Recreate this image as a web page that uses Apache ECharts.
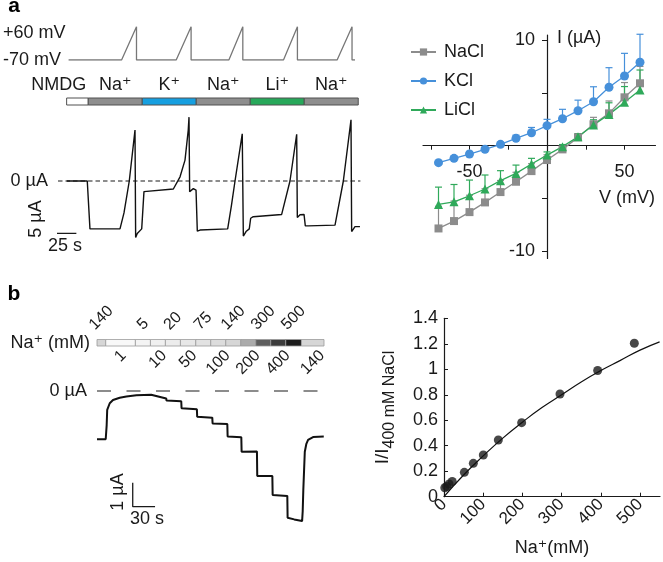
<!DOCTYPE html>
<html>
<head>
<meta charset="utf-8">
<script src="https://cdn.jsdelivr.net/npm/echarts@6/dist/echarts.min.js"></script>
<style>
  html, body { margin: 0; padding: 0; background: #fff; }
  #chart { width: 663px; height: 562px; }
</style>
</head>
<body>
<div id="chart"></div>
<script>
// ---- panel a, top: ramp protocol (time s, potential mV)
const protoT = [8, 57.4, 71.3, 71.3, 108.3, 122.2, 122.2, 157.4, 170.4, 170.4, 208.3, 221.3, 221.3, 258.3, 272.2, 272.2, 275];
const protoV = [-70, -70, 60, -70, -70, 60, -70, -70, 60, -70, -70, 60, -70, -70, 60, -70, -70];

// ---- panel a: perfusion bar (s)
const ionNames = ['NMDG', 'Na⁺', 'K⁺', 'Na⁺', 'Li⁺', 'Na⁺'];
const ionStart = [8, 28, 78, 128, 178, 228];
const ionEnd = [28, 78, 128, 178, 228, 278];

// ---- panel a: current trace (s, µA)
const traceAT = [8.1, 27.1, 28.1, 29.6, 31.2, 57.4, 61.1, 66.0, 71.3, 71.9, 73.4, 77.5, 79.0, 79.6, 81.2, 106.8, 113.0, 117.6, 120.6, 121.3,
  121.9, 123.1, 125.3, 127.8, 129.0, 131.5, 157.1, 160.5, 163.9, 170.6, 171.6, 174.1, 177.1, 178.4, 180.8, 207.1, 214.8, 221.0,
  221.6, 224.1, 227.8, 229.0, 231.8, 256.5, 264.2, 271.3, 271.9, 275.0, 279.6];
const traceAI = [0, 0, -0.4, -12.6, -12.9, -12.6, -8.4, 0, 13.4, -14.9, -13.8, -12.6, -12.4, -2.8, -2.4, -2.1, 1.1, 5.5, 13.4, 16.8,
  -2.8, -2.4, -2.0, -2.4, -13.2, -12.9, -12.6, -6.6, 0, 12.4, -14.5, -13.3, -12.6, -9.8, -9.4, -8.8, 0, 12.3,
  -9.6, -8.9, -8.8, -11.8, -11.8, -11.6, 0, 16.1, -13.3, -12.0, -12.0];
const scaleAT = [-8, -8, 17];
const scaleAI = [-8.76, -13.76, -13.76];

// ---- panel a, right: I-V curves
const ivV = [-70, -60, -50, -40, -30, -20, -10, 0, 10, 20, 30, 40, 50, 60];
const naclI = [-7.85, -7.15, -6.30, -5.38, -4.40, -3.42, -2.41, -1.36, -0.35, 0.79, 2.03, 3.07, 4.59, 5.92];
const naclErr = [2.1, 1.9, 1.6, 1.3, 1.1, 0.9, 0.7, 0.5, 0.3, 0.3, 0.66, 1.17, 1.4, 1.6];
const kclI = [-1.61, -1.20, -0.79, -0.34, 0.13, 0.70, 1.23, 1.90, 2.56, 3.32, 4.17, 5.54, 6.61, 7.91];
const kclErr = [0.2, 0.2, 0.2, 0.2, 0.2, 0.3, 0.5, 0.6, 0.89, 1.0, 1.42, 1.86, 2.15, 2.66];
const liclI = [-5.57, -5.32, -4.75, -4.11, -3.32, -2.63, -1.74, -0.89, -0.09, 0.85, 1.96, 2.97, 4.11, 5.28];
const liclErr = [1.64, 1.64, 1.49, 1.33, 0.95, 0.79, 0.54, 0.3, 0.2, 0.3, 0.5, 1.1, 1.5, 1.9];

// ---- panel b: Na+ concentration bar (s)
const naLabels = ['140', '1', '5', '10', '20', '50', '75', '100', '140', '200', '300', '400', '500', '140'];
const naStart = [0, 11.7, 51.6, 71.8, 91.9, 112.1, 132.7, 152.8, 173.0, 193.1, 213.3, 233.4, 253.6, 274.7];
const naEnd = [11.7, 51.6, 71.8, 91.9, 112.1, 132.7, 152.8, 173.0, 193.1, 213.3, 233.4, 253.6, 274.7, 305];
const naShades = ['#d6d6d6', '#f8f8f8', '#f4f4f4', '#f0f0f0', '#ececec', '#e7e7e7', '#e2e2e2', '#dcdcdc', '#d6d6d6',
  '#ababab', '#5e5e5e', '#3c3c3c', '#1c1c1c', '#d6d6d6'];

// ---- panel b: current trace (s, µA)
const traceBT = [0, 11.7, 13.0, 13.7, 17.1, 21.5, 30.5, 39.5, 53.0, 72.8, 73.0, 73.2, 93.0, 93.2, 93.4, 113.2, 113.4, 113.6,
  134.2, 134.4, 134.6, 154.9, 155.1, 155.3, 175.1, 175.3, 175.5, 193.9, 194.1, 194.3, 214.9, 215.1, 215.3,
  235.6, 235.8, 236.0, 255.7, 255.9, 256.1, 265, 275.6, 276.4, 277.2, 279.2, 281.3, 283.6, 290.3, 304.7];
const traceBI = [-2.01, -2.01, -1.42, -0.79, -0.51, -0.375, -0.28, -0.23, -0.18, -0.16, -0.12, -0.24, -0.31, -0.27, -0.40, -0.43, -0.37, -0.72,
  -0.76, -0.70, -1.07, -1.11, -1.05, -1.35, -1.38, -1.32, -1.90, -1.93, -1.87, -2.53, -2.52, -2.46, -3.54,
  -3.54, -3.48, -4.33, -4.37, -4.31, -5.28, -5.35, -5.42, -5.0, -4.13, -2.53, -2.2, -2.04, -1.92, -1.90];
const scaleBT = [48, 48, 78];
const scaleBI = [-3.82, -4.82, -4.82];

// ---- panel b, right: normalised current vs [Na+]
const doseNa = [2, 7, 13, 21, 51.9, 74.8, 100.3, 138.6, 198.1, 295.9, 392, 485.5];
const doseI = [0.07, 0.08, 0.10, 0.12, 0.191, 0.262, 0.327, 0.445, 0.581, 0.806, 0.99, 1.204];
const fitNa = [0, 50, 100, 150, 200, 250, 300, 350, 400, 450, 500, 550];
const fitI = [0, 0.17, 0.32, 0.46, 0.585, 0.70, 0.80, 0.90, 0.99, 1.07, 1.15, 1.215];

const FONT = "'Liberation Sans', Arial, 'DejaVu Sans', sans-serif";
const INK = '#1a1a1a';
const GRAY = '#8c8c8c';
const BLUE = '#4690da';
const GREEN = '#2fa95a';
const ionColors = ['#ffffff', '#8e8e8e', '#169fe0', '#8e8e8e', '#27a85a', '#8e8e8e'];

const zip = (xs, ys) => xs.map((x, i) => [x, ys[i]]);

function hidden(gridIndex, min, max) {
  return { type: 'value', gridIndex, min, max, show: false };
}

function errorBar(color) {
  return function (params, api) {
    const x = api.value(0), y = api.value(1), e = api.value(2);
    const a = api.coord([x, y]);
    const b = api.coord([x, y + e]);
    const s = { stroke: color, lineWidth: 1.2 };
    return {
      type: 'group',
      children: [
        { type: 'line', shape: { x1: a[0], y1: a[1], x2: b[0], y2: b[1] }, style: s },
        { type: 'line', shape: { x1: b[0] - 3.5, y1: b[1], x2: b[0] + 3.5, y2: b[1] }, style: s }
      ]
    };
  };
}

function ionBar(params, api) {
  const i = params.dataIndex;
  const p0 = api.coord([api.value(0), 1]);
  const p1 = api.coord([api.value(1), 0]);
  const first = i === 0;
  return {
    type: 'group',
    children: [
      { type: 'rect', shape: { x: p0[0], y: p0[1], width: p1[0] - p0[0], height: p1[1] - p0[1] },
        style: { fill: ionColors[i], stroke: '#505050', lineWidth: 1 } },
      { type: 'text', style: {
          text: ionNames[i], x: first ? p1[0] - 2 : (p0[0] + p1[0]) / 2, y: p0[1] - 13,
          align: first ? 'right' : 'center', verticalAlign: 'middle',
          fontSize: 18, fontFamily: FONT, fill: INK } }
    ]
  };
}

function naBar(params, api) {
  const i = params.dataIndex;
  const p0 = api.coord([api.value(0), 1]);
  const p1 = api.coord([api.value(1), 0]);
  const cx = (p0[0] + p1[0]) / 2;
  const txt = naLabels[i];
  const half = (txt.length * 0.556 * 16 + 11.5) * 0.354;
  const above = i % 2 === 0;
  return {
    type: 'group',
    children: [
      { type: 'rect', shape: { x: p0[0], y: p0[1], width: p1[0] - p0[0], height: p1[1] - p0[1] },
        style: { fill: naShades[i], stroke: '#9a9a9a', lineWidth: 0.8 } },
      { type: 'text', x: cx, y: above ? 331.5 - half : 349 + half, rotation: Math.PI / 4,
        style: { text: txt, x: 0, y: 0, align: 'center', verticalAlign: 'middle',
          fontSize: 16, fontFamily: FONT, fill: INK } }
    ]
  };
}

const chart = echarts.init(document.getElementById('chart'));

chart.setOption({
  animation: false,
  backgroundColor: '#fff',
  textStyle: { fontFamily: FONT, color: INK },
  grid: [
    { left: 58, top: 26.7, width: 302.4, height: 33.3 },
    { left: 58, top: 98, width: 302.4, height: 7 },
    { left: 58, top: 105, width: 302.4, height: 152 },
    { left: 423, top: 35, width: 232.5, height: 223.5 },
    { left: 97, top: 339.5, width: 227, height: 6.5 },
    { left: 97, top: 379, width: 227, height: 156 },
    { left: 444, top: 318.3, width: 216, height: 178.4 }
  ],
  legend: {
    data: ['NaCl', 'KCl', 'LiCl'], orient: 'vertical', left: 405, top: 38,
    itemWidth: 25, itemHeight: 9, itemGap: 11,
    textStyle: { fontSize: 18, color: INK, fontFamily: FONT, padding: [0, 0, 0, 3] }
  },
  xAxis: [
    hidden(0, 0, 280),
    hidden(1, 0, 280),
    hidden(2, 0, 280),
    {
      // crosses the y axis at 0 µA
      type: 'value', gridIndex: 3, min: -80, max: 70, position: 'bottom', offset: -112.8,
      axisLine: { onZero: false, lineStyle: { color: INK, width: 1.2 } },
      axisTick: { customValues: [-75, -50, -25, 25, 50], length: 4, lineStyle: { color: INK } },
      axisLabel: { customValues: [-50, 50], margin: 17, fontSize: 18, color: INK },
      splitLine: { show: false }
    },
    hidden(4, 0, 305),
    hidden(5, 0, 305),
    {
      type: 'value', gridIndex: 6, min: 0, max: 551,
      axisLine: { lineStyle: { color: INK, width: 1.2 } },
      axisTick: { inside: true, length: 4, customValues: [0, 100, 200, 300, 400, 500], lineStyle: { color: INK } },
      axisLabel: { customValues: [0, 100, 200, 300, 400, 500], rotate: 45, margin: 5, fontSize: 17, color: INK },
      splitLine: { show: false },
      name: 'Na⁺(mM)', nameLocation: 'middle', nameGap: 42,
      nameTextStyle: { fontSize: 18, color: INK }
    }
  ],
  yAxis: [
    {
      type: 'value', gridIndex: 0, min: -70, max: 60,
      axisLine: { show: false }, axisTick: { show: false }, splitLine: { show: false },
      axisLabel: {
        customValues: [-70, 60], margin: 57, align: 'left', fontSize: 18, color: INK,
        formatter: v => (v === 60 ? '{lo|+60 mV}' : '-70 mV'),
        rich: { lo: { fontSize: 18, padding: [12, 0, 0, 0] } }
      }
    },
    hidden(1, 0, 1),
    {
      type: 'value', gridIndex: 2, min: -20, max: 20,
      axisLine: { show: false }, axisTick: { show: false }, splitLine: { show: false },
      axisLabel: { customValues: [0], formatter: () => '0 µA', margin: 10, fontSize: 18, color: INK }
    },
    {
      // crosses the x axis at 0 mV
      type: 'value', gridIndex: 3, min: -10.7, max: 10.5, position: 'left', offset: -124,
      axisLine: { onZero: false, lineStyle: { color: INK, width: 1.2 } },
      axisTick: { customValues: [-10, -5, 5, 10], length: 5, lineStyle: { color: INK } },
      axisLabel: { customValues: [-10, 10], margin: 12, fontSize: 18, color: INK },
      splitLine: { show: false },
      name: 'I (µA)', nameLocation: 'end', nameGap: 6,
      nameTextStyle: { align: 'left', verticalAlign: 'top', padding: [0, 0, 0, 10], fontSize: 18, color: INK }
    },
    {
      type: 'value', gridIndex: 4, min: 0, max: 1,
      axisLine: { show: false }, axisTick: { show: false }, splitLine: { show: false },
      axisLabel: { customValues: [0.5], formatter: () => 'Na⁺ (mM)', margin: 7, fontSize: 18, color: INK }
    },
    {
      type: 'value', gridIndex: 5, min: -6, max: 0.5,
      axisLine: { show: false }, axisTick: { show: false }, splitLine: { show: false },
      axisLabel: { customValues: [0], formatter: () => '0 µA', margin: 10, fontSize: 18, color: INK }
    },
    {
      type: 'value', gridIndex: 6, min: 0, max: 1.4, interval: 0.2,
      axisLine: { lineStyle: { color: INK, width: 1.2 } },
      axisTick: { inside: true, length: 4, lineStyle: { color: INK } },
      axisLabel: { margin: 6, fontSize: 18, color: INK },
      splitLine: { show: false },
      name: '{a|I/I}{s|400 mM NaCl}', nameLocation: 'middle', nameGap: 46,
      nameTextStyle: {
        color: INK,
        rich: {
          a: { fontSize: 19, lineHeight: 30, verticalAlign: 'middle', fontFamily: FONT },
          s: { fontSize: 16, lineHeight: 16, verticalAlign: 'bottom', fontFamily: FONT }
        }
      }
    }
  ],
  series: [
    { type: 'line', xAxisIndex: 0, yAxisIndex: 0, data: zip(protoT, protoV), symbol: 'none',
      lineStyle: { color: '#777', width: 1.3 } },
    { type: 'custom', xAxisIndex: 1, yAxisIndex: 1, data: zip(ionStart, ionEnd),
      encode: { x: [0, 1] }, renderItem: ionBar },
    { type: 'line', xAxisIndex: 2, yAxisIndex: 2, data: [[0, 0], [280, 0]], symbol: 'none',
      lineStyle: { color: INK, width: 1.2, type: [4.5, 3] } },
    { type: 'line', xAxisIndex: 2, yAxisIndex: 2, data: zip(traceAT, traceAI), symbol: 'none',
      lineStyle: { color: '#111', width: 1.4 } },
    { type: 'line', xAxisIndex: 2, yAxisIndex: 2, data: zip(scaleAT, scaleAI), symbol: 'none', clip: false,
      lineStyle: { color: INK, width: 1.3 } },

    { type: 'custom', xAxisIndex: 3, yAxisIndex: 3, data: ivV.map((v, i) => [v, naclI[i], naclErr[i]]),
      encode: { x: 0, y: 1 }, renderItem: errorBar(GRAY), z: 2 },
    { type: 'custom', xAxisIndex: 3, yAxisIndex: 3, data: ivV.map((v, i) => [v, kclI[i], kclErr[i]]),
      encode: { x: 0, y: 1 }, renderItem: errorBar(BLUE), z: 2 },
    { type: 'custom', xAxisIndex: 3, yAxisIndex: 3, data: ivV.map((v, i) => [v, liclI[i], liclErr[i]]),
      encode: { x: 0, y: 1 }, renderItem: errorBar(GREEN), z: 2 },
    { name: 'NaCl', type: 'line', xAxisIndex: 3, yAxisIndex: 3, data: zip(ivV, naclI),
      symbol: 'rect', symbolSize: 8, itemStyle: { color: GRAY }, lineStyle: { color: GRAY, width: 1.3 }, z: 3 },
    { name: 'KCl', type: 'line', xAxisIndex: 3, yAxisIndex: 3, data: zip(ivV, kclI),
      symbol: 'circle', symbolSize: 9, itemStyle: { color: BLUE }, lineStyle: { color: BLUE, width: 1.3 }, z: 3 },
    { name: 'LiCl', type: 'line', xAxisIndex: 3, yAxisIndex: 3, data: zip(ivV, liclI),
      symbol: 'triangle', symbolSize: 9, itemStyle: { color: GREEN }, lineStyle: { color: GREEN, width: 1.3 }, z: 3 },

    { type: 'custom', xAxisIndex: 4, yAxisIndex: 4, data: zip(naStart, naEnd),
      encode: { x: [0, 1] }, renderItem: naBar },
    { type: 'line', xAxisIndex: 5, yAxisIndex: 5, data: [[0, 0], [305, 0]], symbol: 'none',
      lineStyle: { color: INK, width: 1.2, type: [14, 15.5] } },
    { type: 'line', xAxisIndex: 5, yAxisIndex: 5, data: zip(traceBT, traceBI), symbol: 'none',
      lineStyle: { color: '#111', width: 2 } },
    { type: 'line', xAxisIndex: 5, yAxisIndex: 5, data: zip(scaleBT, scaleBI), symbol: 'none', clip: false,
      lineStyle: { color: INK, width: 1.3 } },

    { type: 'line', xAxisIndex: 6, yAxisIndex: 6, data: zip(fitNa, fitI), symbol: 'none', smooth: true,
      lineStyle: { color: '#111', width: 1.2 } },
    { type: 'scatter', xAxisIndex: 6, yAxisIndex: 6, data: zip(doseNa, doseI), symbolSize: 9,
      itemStyle: { color: '#1a1a1a' } }
  ],
  graphic: [
    { type: 'text', x: 14, y: 6, style: { text: 'a', align: 'center', verticalAlign: 'middle', fontSize: 21, fontWeight: 'bold', fontFamily: FONT, fill: '#000' } },
    { type: 'text', x: 14, y: 294.6, style: { text: 'b', align: 'center', verticalAlign: 'middle', fontSize: 21, fontWeight: 'bold', fontFamily: FONT, fill: '#000' } },
    { type: 'text', x: 36, y: 219, rotation: Math.PI / 2, style: { text: '5 µA', align: 'center', verticalAlign: 'middle', fontSize: 18, fontFamily: FONT, fill: INK } },
    { type: 'text', x: 48, y: 246, style: { text: '25 s', align: 'left', verticalAlign: 'middle', fontSize: 18, fontFamily: FONT, fill: INK } },
    { type: 'text', x: 118, y: 492, rotation: Math.PI / 2, style: { text: '1 µA', align: 'center', verticalAlign: 'middle', fontSize: 18, fontFamily: FONT, fill: INK } },
    { type: 'text', x: 130, y: 519, style: { text: '30 s', align: 'left', verticalAlign: 'middle', fontSize: 18, fontFamily: FONT, fill: INK } },
    { type: 'text', x: 655, y: 198, style: { text: 'V (mV)', align: 'right', verticalAlign: 'middle', fontSize: 18, fontFamily: FONT, fill: INK } }
  ]
});
</script>
</body>
</html>
